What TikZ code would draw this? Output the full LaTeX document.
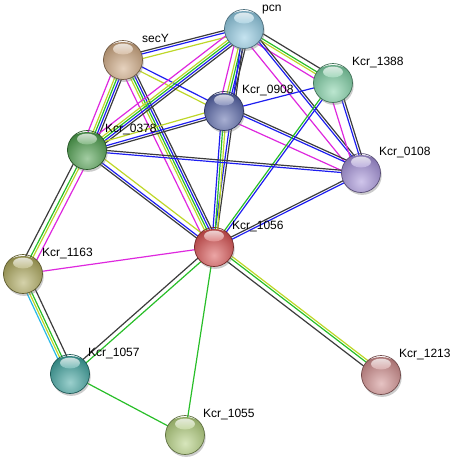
\documentclass[tikz,border=0pt]{standalone}
\usepackage{fontspec}
\setmainfont{Liberation Sans}
\usetikzlibrary{calc,shadows}
\pgfdeclarelayer{bg}
\pgfsetlayers{bg,main}
\definecolor{slot0}{RGB}{222,40,222}
\definecolor{slot1}{RGB}{40,185,230}
\definecolor{slot2}{RGB}{190,215,40}
\definecolor{slot3}{RGB}{40,190,40}
\definecolor{slot4}{RGB}{30,30,240}
\definecolor{slot5}{RGB}{60,60,60}
\definecolor{cPcn}{RGB}{140,200,225}
\definecolor{cSecY}{RGB}{205,165,125}
\definecolor{cA}{RGB}{120,205,160}
\definecolor{cB}{RGB}{80,95,165}
\definecolor{cC}{RGB}{70,155,70}
\definecolor{cD}{RGB}{160,140,215}
\definecolor{cE}{RGB}{215,75,75}
\definecolor{cF}{RGB}{170,165,85}
\definecolor{cG}{RGB}{55,160,155}
\definecolor{cH}{RGB}{205,135,135}
\definecolor{cI}{RGB}{175,205,120}
\newcommand\sgap{2.3}
\newcommand\sedge[3]{%
  \gdef\smin{9}\gdef\smax{-1}%
  \foreach \s in {#3}{%
    \pgfmathsetmacro\ta{min(\smin,\s)}\xdef\smin{\ta}%
    \pgfmathsetmacro\tb{max(\smax,\s)}\xdef\smax{\tb}}%
  \foreach \s in {#3}{%
    \pgfmathsetmacro\soff{((\smin+\smax)/2-\s)*\sgap}%
    \draw[edgeline, color=slot\s] ($(#1)!\soff pt!90:(#2)$) -- ($(#2)!\soff pt!-90:(#1)$);}%
}
\tikzset{
  edgeline/.style={line width=1.2pt},
  ball/.style={circle, minimum size=39pt, inner sep=0pt, draw=#1!55!black, line width=0.7pt,
    drop shadow={shadow xshift=1.2pt, shadow yshift=-2.4pt, opacity=0.4},
    path picture={
      \shade[inner color=#1!50!white, outer color=#1!80!black]
        ([yshift=-9pt]path picture bounding box.center) circle (27pt);
      \shade[top color=white, bottom color=#1!60!white, opacity=0.75]
        ([yshift=11pt]path picture bounding box.center) ellipse (10pt and 5.5pt);
    }},
  lab/.style={anchor=base west, inner sep=0pt, font=\fontsize{12pt}{14pt}\selectfont}
}
\begin{document}
\begin{tikzpicture}[x=1pt, y=-1pt]
\useasboundingbox (0,0) rectangle (459,461);
% nodes
\node[ball=cPcn]  (pcn)   at (244,29) {};
\node[ball=cSecY] (secY)  at (123,60) {};
\node[ball=cA]    (n1388) at (333,83) {};
\node[ball=cB]    (n0908) at (224,111) {};
\node[ball=cC]    (n0378) at (87,150) {};
\node[ball=cD]    (n0108) at (361,173) {};
\node[ball=cE]    (n1056) at (214,247) {};
\node[ball=cF]    (n1163) at (23,274) {};
\node[ball=cG]    (n1057) at (70,374) {};
\node[ball=cH]    (n1213) at (381,375) {};
\node[ball=cI]    (n1055) at (185,435) {};
% labels
\node[lab] (lpcn)  at (262,11)    {pcn};
\node[lab] (lsecY) at (142,42.5)  {secY};
\node[lab] (l1388) at (352,65.5)  {Kcr\_1388};
\node[lab] (l0908) at (242,93.5)  {Kcr\_0908};
\node[lab] (l0378) at (105,132.5) {Kcr\_0378};
\node[lab] (l0108) at (379,155.5) {Kcr\_0108};
\node[lab] (l1056) at (232,229.5) {Kcr\_1056};
\node[lab] (l1163) at (42,256.5)  {Kcr\_1163};
\node[lab] (l1057) at (88,356.5)  {Kcr\_1057};
\node[lab] (l1213) at (399,357.5) {Kcr\_1213};
\node[lab] (l1055) at (203,417.5) {Kcr\_1055};
% edges
\begin{pgfonlayer}{bg}
\sedge{pcn}{secY}{2,4,5}
\sedge{n0908}{secY}{2,4}
\sedge{n0378}{secY}{0,2,3,4,5}
\sedge{n1056}{secY}{0,2,3,4,5}
\sedge{n0378}{pcn}{0,2,3,4,5}
\sedge{n0908}{pcn}{0,2,3,4,5}
\sedge{n1388}{pcn}{0,2,3,5}
\sedge{n0108}{pcn}{0,4,5}
\sedge{n1056}{pcn}{4,5}
\sedge{n0908}{n1388}{4}
\sedge{n0108}{n0908}{0,4,5}
\sedge{n0908}{n1056}{2,3,4}
\sedge{n0378}{n0908}{2,4,5}
\sedge{n0108}{n1388}{0,4,5}
\sedge{n1056}{n1388}{3,4}
\sedge{n0108}{n0378}{4,5}
\sedge{n0378}{n1056}{2,4,5}
\sedge{n0378}{n1163}{0,2,3,5}
\sedge{n0108}{n1056}{4,5}
\sedge{n1056}{n1163}{0}
\sedge{n1056}{n1057}{3,5}
\sedge{n1056}{n1055}{3}
\sedge{n1056}{n1213}{2,3,5}
\sedge{n1057}{n1163}{1,2,3,5}
\sedge{n1057}{n1055}{3}
\end{pgfonlayer}
\end{tikzpicture}
\end{document}
